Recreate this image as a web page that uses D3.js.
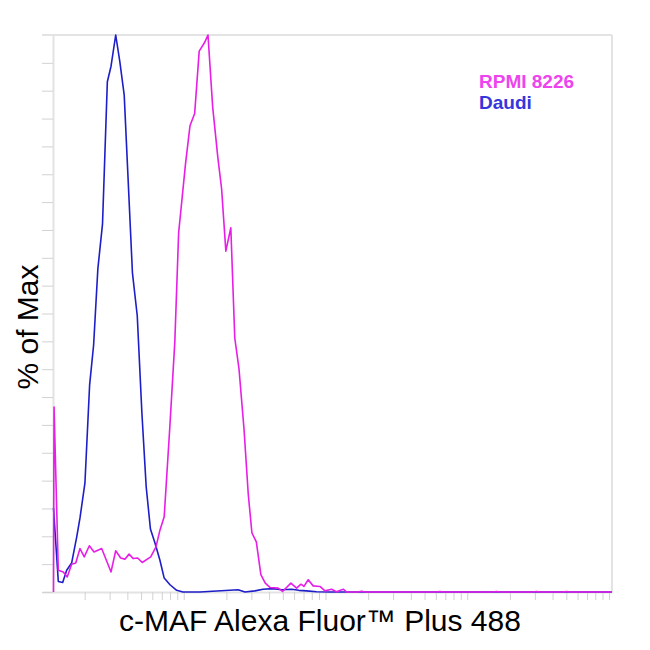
<!DOCTYPE html>
<html>
<head>
<meta charset="utf-8">
<script src="https://cdn.jsdelivr.net/npm/d3@7"></script>
<style>
  html, body { margin: 0; padding: 0; background: #fff; }
  svg { display: block; }
</style>
</head>
<body>
<svg id="chart" width="650" height="650"></svg>
<script>
// ---- Data (log10 of fluorescence intensity, % of max) ----
const seriesNames = ["RPMI 8226", "Daudi"];
const seriesColors = ["#e61ee6", "#1e1ec8"];
const legendColors = ["#ee44ee", "#3636dc"];

const daudiLog = [0.081, 0.115, 0.146, 0.174, 0.209, 0.245, 0.268, 0.303, 0.336, 0.364, 0.394, 0.427,
  0.461, 0.487, 0.520, 0.549, 0.580, 0.638, 0.672, 0.705, 0.735, 0.765, 0.797, 0.832, 0.862, 0.903,
  0.950, 0.994, 1.114, 1.384, 1.432, 1.502, 1.559, 1.629, 1.693, 1.761, 1.812, 1.867, 1.937, 2.031, 4.020];
const daudiPct = [15.1, 1.9, 1.7, 3.9, 5.2, 9.9, 13.3, 19.6, 37.2, 44.3, 58.0, 66.1,
  91.6, 94.4, 100, 95.2, 89.2, 57.3, 49.6, 32.0, 18.9, 11.3, 8.8, 5.7, 2.5, 1.3,
  0.3, 0, 0, 0.4, 0, 0.2, 0.5, 0.6, 0.4, 0.5, 0.3, 0.2, 0.05, 0, 0];

const rpmiLog = [0.081, 0.085, 0.115, 0.150, 0.178, 0.209, 0.238, 0.268, 0.298, 0.334, 0.367, 0.421,
  0.487, 0.520, 0.555, 0.585, 0.614, 0.644, 0.675, 0.707, 0.767, 0.804, 0.832, 0.862, 0.901, 0.937,
  0.964, 1.013, 1.044, 1.077, 1.109, 1.146, 1.171, 1.204, 1.241, 1.267, 1.297, 1.332, 1.360, 1.390,
  1.425, 1.455, 1.481, 1.512, 1.544, 1.575, 1.610, 1.666, 1.697, 1.756, 1.796, 1.827, 1.848, 1.878,
  1.913, 1.961, 1.996, 2.043, 2.078, 2.125, 2.149, 2.228, 2.255, 2.278, 2.779, 2.807, 2.835, 3.181,
  3.207, 3.230, 3.463, 3.489, 3.512, 3.674, 3.700, 3.723, 4.020];
const rpmiPct = [0, 33.2, 3.9, 3.6, 2.7, 5.0, 5.2, 7.8, 6.3, 8.3, 7.2, 7.8,
  3.6, 7.4, 6.1, 5.9, 6.8, 6.0, 6.1, 5.3, 6.3, 8.1, 11.1, 13.5, 29.3, 44.9,
  64.5, 77.0, 83.7, 85.9, 97.1, 98.6, 100, 87.1, 77.9, 72.4, 61.2, 65.4, 45.6, 40.0,
  29.3, 17.6, 10.6, 9.0, 3.1, 1.6, 0.8, 0.7, 0.1, 1.6, 0.7, 1.4, 1.0, 2.2,
  1.1, 1.0, 0.2, 0.5, 0.05, 0.5, 0, 0, 0.15, 0, 0, 0.1, 0, 0,
  0.1, 0, 0, 0.1, 0, 0, 0.1, 0, 0];

const xTickValues = [2, 3, 4, 5, 6, 7, 8, 9, 10,
  20, 30, 40, 50, 60, 70, 80, 90, 100,
  200, 300, 400, 500, 600, 700, 800, 900, 1000,
  2000, 3000, 4000, 5000, 6000, 7000, 8000, 9000, 10000];
const yTickValues = [0, 5, 10, 15, 20, 25, 30, 35, 40, 45, 50, 55, 60, 65, 70, 75, 80, 85, 90, 95, 100];

const xLabel = "c-MAF Alexa Fluor™ Plus 488";
const yLabel = "% of Max";

// ---- Drawing ----
(function () {
const svg = d3.select("#chart");
const pLeft = 42, pRight = 612, pTop = 35, pBottom = 592, yAxisX = 53;

const x = d3.scaleLog().domain([1, 10500]).range([pLeft, pRight]);
const y = d3.scaleLinear().domain([0, 100]).range([pBottom, pTop]);

const frameColor = "#e3e3e3";
const tickColor = "#d2d2d2";

// x axis
const gx = svg.append("g").attr("transform", `translate(0,${pBottom})`)
  .call(d3.axisBottom(x).tickValues(xTickValues).tickFormat("").tickSize(8).tickSizeOuter(0));
gx.select(".domain").attr("stroke", frameColor).attr("stroke-width", 2);
gx.selectAll(".tick line").attr("stroke", tickColor).attr("stroke-width", 1);

// y axis
const gy = svg.append("g").attr("transform", `translate(${yAxisX},0)`)
  .call(d3.axisLeft(y).tickValues(yTickValues).tickFormat("").tickSize(yAxisX - pLeft).tickSizeOuter(0));
gy.select(".domain").attr("stroke", frameColor).attr("stroke-width", 2);
gy.selectAll(".tick line").attr("stroke", tickColor).attr("stroke-width", 1);

// frame top & right
svg.append("line").attr("x1", pLeft).attr("x2", pRight).attr("y1", pTop).attr("y2", pTop)
  .attr("stroke", frameColor).attr("stroke-width", 2);
svg.append("line").attr("x1", pRight).attr("x2", pRight).attr("y1", pTop).attr("y2", pBottom)
  .attr("stroke", frameColor).attr("stroke-width", 2);

const line = d3.line().x(d => x(Math.pow(10, d[0]))).y(d => y(d[1]));

const daudi = daudiLog.map((v, i) => [v, daudiPct[i]]);
const rpmi = rpmiLog.map((v, i) => [v, rpmiPct[i]]);

svg.append("path").datum(daudi).attr("d", line)
  .attr("fill", "none").attr("stroke", seriesColors[1]).attr("stroke-width", 1.6)
  .attr("stroke-linejoin", "round");
svg.append("path").datum(rpmi).attr("d", line)
  .attr("fill", "none").attr("stroke", seriesColors[0]).attr("stroke-width", 1.6)
  .attr("stroke-linejoin", "round");

// legend
const legend = svg.append("g").attr("font-family", "Liberation Sans, Arial, sans-serif")
  .attr("font-weight", "bold").attr("font-size", 19);
seriesNames.forEach((n, i) => {
  legend.append("text").attr("x", 479).attr("y", 88 + i * 21).attr("fill", legendColors[i]).text(n);
});

// axis labels
svg.append("text").attr("x", 320).attr("y", 631).attr("text-anchor", "middle")
  .attr("font-family", "Liberation Sans, Arial, sans-serif").attr("font-size", 30)
  .attr("fill", "#000").text(xLabel);
svg.append("text").attr("transform", "translate(38,327) rotate(-90)").attr("text-anchor", "middle")
  .attr("font-family", "Liberation Sans, Arial, sans-serif").attr("font-size", 30)
  .attr("fill", "#000").text(yLabel);
})();
</script>
</body>
</html>
